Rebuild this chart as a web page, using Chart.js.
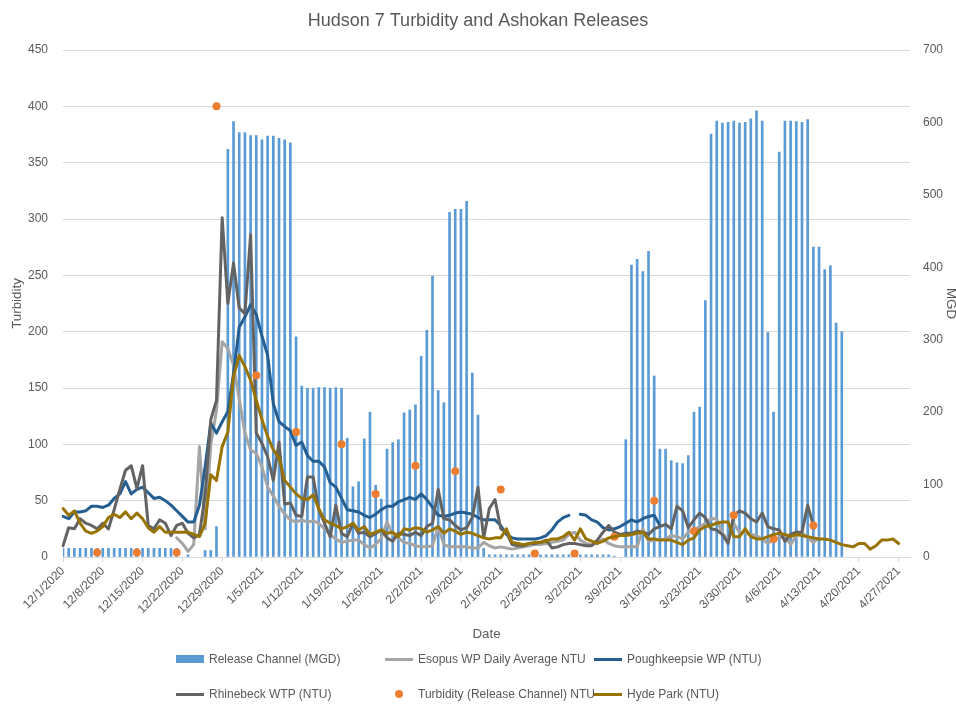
<!DOCTYPE html>
<html>
<head>
<meta charset="utf-8">
<script src="https://cdn.jsdelivr.net/npm/chart.js@4.4.4/dist/chart.umd.min.js"></script>
<style>
  html, body { margin: 0; padding: 0; background: #fff; overflow: hidden; }
  #wrap { position: relative; width: 956px; height: 704px; }
  #legend { position: absolute; left: 0; top: 0; width: 956px; height: 704px; pointer-events: none;
    font-family: 'Liberation Sans', Arial, sans-serif; font-size: 12px; color: #595959; }
  .item { position: absolute; height: 14px; line-height: 14px; white-space: nowrap; }
  .sw { position: absolute; left: 0; top: 0; width: 28px; height: 14px; }
  .txt { position: absolute; left: 33px; top: 0; }
</style>
</head>
<body>
<div id="wrap">
  <canvas id="chart" width="956" height="704"></canvas>
  <div id="legend"></div>
</div>
<script>
// one label per day, 12/1/2020 .. 4/29/2021
const dates = [];
for (let i = 0; i < 150; i++) {
  const d = new Date(2020, 11, 1 + i);
  dates.push((d.getMonth() + 1) + '/' + d.getDate() + '/' + d.getFullYear());
}

// Release Channel (MGD), right axis
const releaseMGD = [
  12, 12, 12, 12, 12, 12, 12, 12, 12, 12,
  12, 12, 12, 12, 12, 12, 12, 12, 12, 12,
  12, null, 3, null, null, 9, 9, 42, null, 563,
  601, 586, 586, 582, 582, 576, 581, 581, 578, 576,
  572, 304, 236, 233, 233, 234, 234, 233, 234, 233,
  164, 97, 104, 163, 200, 99, 80, 149, 158, 162,
  199, 203, 210, 277, 313, 388, 230, 213, 476, 480,
  480, 491, 254, 196, 12, 3, 3, 3, 3, 3,
  3, 3, 3, 3, 3, 3, 3, 3, 3, 3,
  3, 3, 3, 3, 3, 3, 3, 1, null, 162,
  403, 411, 394, 422, 250, 149, 149, 133, 130, 129,
  140, 200, 207, 354, 584, 602, 599, 600, 602, 599,
  600, 605, 616, 602, 310, 200, 559, 602, 602, 601,
  600, 604, 428, 428, 397, 402, 323, 311, null, null,
  null, null, null, null, null, null, null, null, null, null
];

const esopusNTU = [
  null, null, null, null, null, null, null, null, null, null,
  null, null, null, null, null, null, null, null, null, null,
  17, 12, 5, 11, 98, 25, 100, 130, 191, 185,
  170, 140, 110, 95, 92, 80, 62, 54, 45, 38,
  33, 31, 33, 31, 32, 30, 25, 20, 16, 13,
  14, 15, 15, 11, 8, 11, 17, 31, 20, 17,
  13, 12, 10, 9, 9, 10, 27, 11, 9, 9,
  9, 9, 8, 8, 13, 10, 8, 9, 8, 7,
  8, 9, 10, 11, 11, 12, 13, 14, 15, 20,
  22, 15, 12, 11, 12, 16, 12, 10, 9, 9,
  9, 9, 25, 14, 15, 15, 16, 19, 18, 16,
  22, 24, 27, 30, 34, 34, 21, 16, 30, 22,
  21, 20, 19, 16, 12, 16, 17, 18, 11, 19,
  22, 17, 13, 17, null, null, null, null, null, null,
  null, null, null, null, null, null, null, null, null, null
];

const poughkeepsieNTU = [
  36, 34, 40, 40, 41, 45, 45, 44, 46, 52,
  56, 67, 56, 60, 62, 57, 52, 53, 50, 46,
  41, 36, 31, 31, 46, 80, 119, 110, 120, 129,
  163, 204, 213, 224, 215, 196, 179, 136, 120, 116,
  112, 99, 102, 90, 85, 85, 80, 66, 62, 52,
  42, 41, 40, 37, 35, 38, 42, 45, 45, 49,
  51, 53, 51, 56, 51, 44, 37, 36, 37, 39,
  40, 39, 38, 35, 33, 33, 33, 28, 20, 17,
  16, 16, 16, 16, 17, 19, 24, 31, 35, 37,
  null, 38, 37, 33, 31, 26, 24, 25, 27, 30,
  33, 31, 34, 36, 37, 28, null, null, null, null,
  null, null, null, null, null, null, null, null, null, null,
  null, null, null, null, null, null, null, null, null, null,
  null, null, null, null, null, null, null, null, null, null,
  null, null, null, null, null, null, null, null, null, null
];

const rhinebeckNTU = [
  10, 26, 25, 34, 30, 28, 25, 30, 25, 42,
  60, 77, 81, 61, 81, 28, 25, 33, 30, 19,
  28, 30, 21, 17, 20, 55, 122, 139, 301, 225,
  261, 221, 216, 286, 110, 101, 89, 68, 102, 47,
  48, 37, 36, 71, 71, 42, 30, 18, 46, 21,
  18, 30, 21, 22, 18, 21, 24, 17, 14, 21,
  20, 19, 22, 19, 27, 30, 60, 34, 33, 28,
  24, 26, 35, 62, 17, 43, 51, 25, 22, 11,
  10, 10, 12, 12, 13, 15, 8, 9, 11, 12,
  12, 11, 10, 10, 15, 22, 28, 22, 20, 21,
  21, 23, 22, 20, 25, 27, 29, 25, 45, 41,
  26, 33, 39, 35, 25, 24, 20, 12, 37, 41,
  39, 34, 31, 39, 27, 25, 24, 14, 20, 22,
  22, 46, 28, null, null, null, null, null, null, null,
  null, null, null, null, null, null, null, null, null, null
];

const hydeParkNTU = [
  43, 37, 41, 30, 23, 21, 23, 27, 35, 38,
  35, 40, 34, 39, 34, 26, 22, 27, 22, 22,
  22, 22, 22, 20, 18, 30, 73, 68, 98, 111,
  160, 179, 169, 157, 139, 122, 107, 95, 88, 68,
  62, 56, 52, 51, 55, 43, 33, 30, 28, 25,
  27, 30, 24, 27, 20, 22, 24, 21, 22, 18,
  25, 24, 26, 25, 22, 24, 27, 21, 25, 23,
  20, 22, 21, 19, 17, 16, 17, 17, 25, 13,
  12, 11, 12, 13, 13, 14, 16, 16, 18, 22,
  15, 25, 16, 14, 12, 14, 17, 18, 19, 19,
  20, 21, 22, 16, 16, 15, 15, 15, 13, 11,
  15, 17, 24, 27, 28, 30, 31, 31, 18, 18,
  25, 18, 16, 16, 18, 20, 21, 20, 18, 20,
  19, 18, 17, 16, 16, 15, 13, 11, 10, 9,
  12, 12, 7, 10, 15, 15, 16, 12, null, null
];

// weekly grab samples of the release channel
const sampleDays = [6, 13, 20, 27, 34, 41, 49, 55, 62, 69, 77, 83, 90, 97, 104, 111, 118, 125, 132];
const sampleNTU = [4, 4, 4, 400, 161, 111, 100, 56, 81, 76, 60, 3, 3, 18, 50, 23, 37, 16, 28];

const releaseTurbidity = dates.map(() => null);
sampleDays.forEach((day, i) => { releaseTurbidity[day] = sampleNTU[i]; });

Chart.defaults.font.family = "'Liberation Sans', Arial, sans-serif";
Chart.defaults.color = '#595959';

const gridColor = '#D9D9D9';

const chart = new Chart(document.getElementById('chart'), {
  type: 'bar',
  data: {
    labels: dates,
    datasets: [
      { type: 'bar', label: 'Release Channel (MGD)', data: releaseMGD, yAxisID: 'y1',
        backgroundColor: '#5B9BD5', borderWidth: 0, barThickness: 2, order: 6 },
      { type: 'line', label: 'Esopus WP Daily Average NTU', data: esopusNTU, yAxisID: 'y',
        borderColor: '#A5A5A5', backgroundColor: '#A5A5A5', order: 5 },
      { type: 'line', label: 'Poughkeepsie WP (NTU)', data: poughkeepsieNTU, yAxisID: 'y',
        borderColor: '#255E91', backgroundColor: '#255E91', order: 4 },
      { type: 'line', label: 'Rhinebeck WTP (NTU)', data: rhinebeckNTU, yAxisID: 'y',
        borderColor: '#636363', backgroundColor: '#636363', order: 3 },
      { type: 'line', label: 'Turbidity (Release Channel) NTU', data: releaseTurbidity, yAxisID: 'y',
        showLine: false, pointRadius: 4, pointBorderWidth: 0,
        pointBackgroundColor: '#ED7D31', borderColor: '#ED7D31', backgroundColor: '#ED7D31', order: 2 },
      { type: 'line', label: 'Hyde Park (NTU)', data: hydeParkNTU, yAxisID: 'y',
        borderColor: '#997300', backgroundColor: '#997300', order: 1 }
    ]
  },
  options: {
    responsive: false,
    animation: false,
    devicePixelRatio: 1,
    layout: { padding: { left: 0, right: 0, top: 0, bottom: 62 } },
    elements: {
      line: { borderWidth: 3, tension: 0, borderJoinStyle: 'round', borderCapStyle: 'round' },
      point: { radius: 0, hoverRadius: 0 }
    },
    plugins: {
      legend: { display: false },
      tooltip: { enabled: false },
      title: {
        display: true,
        text: 'Hudson 7 Turbidity and Ashokan Releases',
        color: '#595959',
        font: { size: 18, weight: 'normal' },
        padding: { top: 10, bottom: 18.4 }
      }
    },
    scales: {
      x: {
        offset: false,
        grid: { offset: false, drawOnChartArea: false, drawTicks: true, tickLength: 5, color: gridColor },
        border: { color: gridColor },
        ticks: {
          autoSkip: false, minRotation: 45, maxRotation: 45, padding: 2,
          font: { size: 12 },
          callback(value, index) { return index % 7 === 0 ? this.getLabelForValue(value) : null; }
        },
        title: { display: true, text: 'Date', font: { size: 13.33 }, padding: { top: 0, bottom: 0 } },
        afterFit(scale) { scale.height = 85; }
      },
      y: {
        position: 'left', min: 0, max: 450,
        ticks: { stepSize: 50, padding: 15, font: { size: 12 } },
        grid: { color: gridColor, drawTicks: false },
        border: { display: false },
        title: { display: true, text: 'Turbidity', font: { size: 13.33 }, padding: { top: 9, bottom: 0 } },
        afterFit(scale) { scale.width = 63; }
      },
      y1: {
        position: 'right', min: 0, max: 700,
        ticks: { stepSize: 100, padding: 13, font: { size: 12 } },
        grid: { drawOnChartArea: false, drawTicks: false },
        border: { display: false },
        title: { display: true, text: 'MGD', font: { size: 13.33 }, padding: { top: -3, bottom: 0 } },
        afterFit(scale) { scale.width = 46; }
      }
    }
  }
});

// legend laid out like the spreadsheet's: 3 columns, 2 rows
const legendCols = [176, 385, 594];
const legendRows = [652, 687];
const legendEl = document.getElementById('legend');
chart.data.datasets.forEach((ds, i) => {
  const item = document.createElement('div');
  item.className = 'item';
  item.style.left = legendCols[i % 3] + 'px';
  item.style.top = legendRows[Math.floor(i / 3)] + 'px';

  const sw = document.createElement('div');
  sw.className = 'sw';
  const mark = document.createElement('div');
  mark.style.position = 'absolute';
  if (ds.type === 'bar') {
    Object.assign(mark.style, { left: '0px', top: '3px', width: '28px', height: '8px', background: ds.backgroundColor });
  } else if (ds.showLine === false) {
    Object.assign(mark.style, { left: '10px', top: '3px', width: '8px', height: '8px', borderRadius: '50%', background: ds.pointBackgroundColor });
  } else {
    Object.assign(mark.style, { left: '0px', top: '5.5px', width: '28px', height: '3px', background: ds.borderColor });
  }
  sw.appendChild(mark);

  const txt = document.createElement('span');
  txt.className = 'txt';
  txt.textContent = ds.label;

  item.appendChild(sw);
  item.appendChild(txt);
  legendEl.appendChild(item);
});
</script>
</body>
</html>
